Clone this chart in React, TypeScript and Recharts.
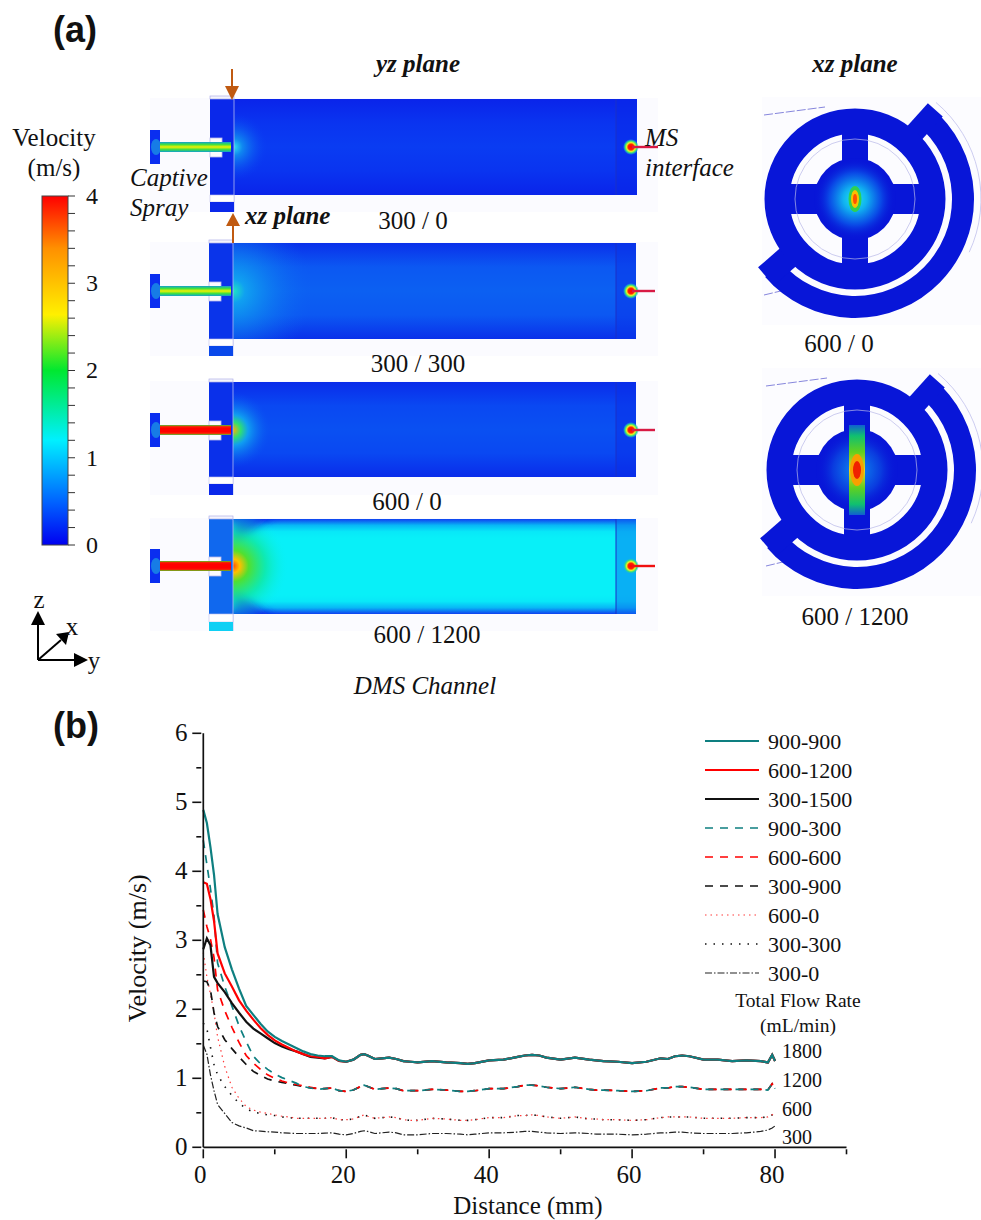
import React from "react";
import { LineChart, Line, XAxis, YAxis, Legend } from "recharts";

const earlyKnots = [0, 0.5, 1, 1.5, 2, 3, 4, 5, 6, 7, 8, 9, 10, 11, 12, 13, 14, 15, 16, 17, 18, 19];
const plateauKnots = [20, 21, 22, 22.5, 23, 24, 25, 26, 27, 28, 29, 30, 32, 34, 36, 37, 38, 40, 42, 44, 45, 46, 47, 48, 50, 52, 54, 55, 56, 58, 60, 62, 64, 65, 66, 67, 68, 70, 72, 74, 76, 78, 79, 79.6, 80];

const plateau1800 = [1.24, 1.27, 1.34, 1.35, 1.33, 1.28, 1.29, 1.3, 1.28, 1.25, 1.24, 1.23, 1.25, 1.23, 1.22, 1.21, 1.22, 1.26, 1.27, 1.31, 1.33, 1.34, 1.33, 1.3, 1.27, 1.3, 1.27, 1.26, 1.25, 1.24, 1.22, 1.24, 1.29, 1.28, 1.32, 1.33, 1.32, 1.27, 1.27, 1.25, 1.26, 1.25, 1.23, 1.34, 1.25];
const plateau1200 = [0.81, 0.83, 0.88, 0.9, 0.88, 0.84, 0.85, 0.86, 0.85, 0.82, 0.82, 0.82, 0.84, 0.83, 0.81, 0.81, 0.82, 0.85, 0.85, 0.88, 0.9, 0.9, 0.89, 0.87, 0.85, 0.87, 0.84, 0.83, 0.83, 0.82, 0.81, 0.82, 0.86, 0.86, 0.88, 0.88, 0.87, 0.84, 0.84, 0.84, 0.84, 0.84, 0.83, 0.92, 0.85];
const plateau600 = [0.4, 0.41, 0.45, 0.47, 0.45, 0.42, 0.43, 0.44, 0.43, 0.4, 0.39, 0.39, 0.42, 0.41, 0.39, 0.39, 0.4, 0.43, 0.43, 0.46, 0.46, 0.47, 0.46, 0.44, 0.42, 0.44, 0.41, 0.41, 0.4, 0.4, 0.39, 0.4, 0.43, 0.44, 0.44, 0.44, 0.44, 0.42, 0.42, 0.42, 0.43, 0.43, 0.44, 0.47, 0.51];
const plateau300 = [0.18, 0.2, 0.23, 0.24, 0.23, 0.2, 0.21, 0.22, 0.21, 0.18, 0.18, 0.18, 0.2, 0.2, 0.19, 0.18, 0.19, 0.21, 0.21, 0.22, 0.23, 0.23, 0.22, 0.21, 0.2, 0.21, 0.2, 0.19, 0.19, 0.19, 0.18, 0.19, 0.21, 0.21, 0.22, 0.22, 0.21, 0.2, 0.2, 0.2, 0.21, 0.23, 0.25, 0.28, 0.31];

const early900_900 = [4.89, 4.7, 4.35, 3.95, 3.38, 2.9, 2.58, 2.3, 2.05, 1.92, 1.79, 1.68, 1.6, 1.54, 1.49, 1.44, 1.39, 1.35, 1.33, 1.32, 1.32, 1.26];
const early600_1200 = [3.84, 3.82, 3.6, 3.28, 2.81, 2.52, 2.33, 2.13, 1.98, 1.85, 1.73, 1.63, 1.55, 1.49, 1.44, 1.39, 1.35, 1.32, 1.31, 1.29, 1.31, 1.25];
const early300_1500 = [2.87, 3.03, 2.93, 2.47, 2.38, 2.25, 2.09, 1.95, 1.82, 1.72, 1.65, 1.58, 1.51, 1.46, 1.42, 1.39, 1.35, 1.31, 1.3, 1.29, 1.31, 1.25];
const early900_300 = [4.45, 4.1, 3.75, 3.35, 2.67, 2.33, 2.05, 1.76, 1.53, 1.32, 1.21, 1.13, 1.06, 1.01, 0.97, 0.93, 0.88, 0.86, 0.84, 0.85, 0.86, 0.82];
const early600_600 = [3.44, 3.2, 3.02, 2.75, 2.28, 1.98, 1.74, 1.52, 1.33, 1.22, 1.13, 1.05, 1.0, 0.96, 0.93, 0.91, 0.89, 0.87, 0.85, 0.85, 0.86, 0.82];
const early300_900 = [2.41, 2.4, 2.28, 1.95, 1.75, 1.56, 1.43, 1.31, 1.2, 1.1, 1.04, 0.99, 0.96, 0.94, 0.92, 0.9, 0.88, 0.86, 0.85, 0.85, 0.86, 0.82];
const early600_0 = [2.82, 2.47, 2.22, 1.95, 1.6, 1.17, 0.87, 0.71, 0.59, 0.54, 0.51, 0.49, 0.47, 0.45, 0.44, 0.42, 0.42, 0.42, 0.42, 0.42, 0.43, 0.4];
const early300_300 = [1.8, 1.72, 1.45, 1.2, 1.05, 0.88, 0.75, 0.64, 0.56, 0.51, 0.49, 0.47, 0.46, 0.44, 0.43, 0.42, 0.42, 0.42, 0.42, 0.42, 0.43, 0.4];
const early300_0 = [1.48, 1.35, 1.05, 0.82, 0.62, 0.49, 0.36, 0.31, 0.28, 0.24, 0.235, 0.225, 0.22, 0.21, 0.205, 0.2, 0.2, 0.2, 0.2, 0.205, 0.21, 0.19];

const TEAL = "#0e7f80";
const RED = "#ff0000";
const BLACK = "#111111";

const seriesDefs = [
  { name: "300-0", early: early300_0, plateau: plateau300, color: "#222222", width: 1.2, dash: "7 2 1.5 2" },
  { name: "300-300", early: early300_300, plateau: plateau600, color: BLACK, width: 1.6, dash: "1.5 7" },
  { name: "600-0", early: early600_0, plateau: plateau600, color: "#ff3b3b", width: 1.2, dash: "1.5 4" },
  { name: "300-900", early: early300_900, plateau: plateau1200, color: BLACK, width: 1.7, dash: "8 7" },
  { name: "600-600", early: early600_600, plateau: plateau1200, color: RED, width: 1.7, dash: "8 7" },
  { name: "900-300", early: early900_300, plateau: plateau1200, color: TEAL, width: 1.7, dash: "8 7" },
  { name: "300-1500", early: early300_1500, plateau: plateau1800, color: BLACK, width: 2.2, dash: undefined },
  { name: "600-1200", early: early600_1200, plateau: plateau1800, color: RED, width: 2.2, dash: undefined },
  { name: "900-900", early: early900_900, plateau: plateau1800, color: TEAL, width: 2.2, dash: undefined },
];
const legendOrder = ["900-900", "600-1200", "300-1500", "900-300", "600-600", "300-900", "600-0", "300-300", "300-0"];

const xTicks = [0, 10, 20, 30, 40, 50, 60, 70, 80, 90];
const yTicks = [0, 0.5, 1, 1.5, 2, 2.5, 3, 3.5, 4, 4.5, 5, 5.5, 6];
const flowLabels = ["1800", "1200", "600", "300"];
const barTicks = ["4", "3", "2", "1", "0"];

const distance = [...earlyKnots, ...plateauKnots];
const rows = distance.map((d, i) => {
  const row: Record<string, number> = { d };
  seriesDefs.forEach((s) => {
    row[s.name] = [...s.early, ...s.plateau][i];
  });
  return row;
});

const SERIF = "'Liberation Serif', 'Times New Roman', serif";
const SANS = "'Liberation Sans', Arial, sans-serif";
const INK = "#111111";

const XTick = (p: any) => {
  const v = p.payload.value;
  const major = v % 20 === 0;
  return (
    <g>
      <line x1={p.x} x2={p.x} y1={p.y} y2={p.y + (major ? 9 : 5)} stroke={INK} strokeWidth={1.6} />
      {major && (
        <text x={p.x - 3} y={p.y + 34} textAnchor="middle" fontFamily={SERIF} fontSize={25} fill={INK}>
          {v}
        </text>
      )}
    </g>
  );
};
const YTick = (p: any) => {
  const v = p.payload.value;
  const major = Number.isInteger(v);
  return (
    <g>
      <line x1={p.x - (major ? 9 : 5)} x2={p.x} y1={p.y} y2={p.y} stroke={INK} strokeWidth={1.6} />
      {major && (
        <text x={p.x - 20} y={p.y + 8} textAnchor="middle" fontFamily={SERIF} fontSize={25} fill={INK}>
          {v}
        </text>
      )}
    </g>
  );
};

const LegendBox = (props: any) => {
  const items = legendOrder.map((n) => (props.payload || []).find((e: any) => e.value === n)).filter(Boolean);
  return (
    <svg width={170} height={270} style={{ display: "block", overflow: "visible", position: "absolute", left: 0, top: 0 }}>
      {items.map((e: any, i: number) => {
        const y = 13 + i * 29;
        return (
          <g key={e.value}>
            <line x1={5} x2={59} y1={y} y2={y} stroke={e.color} strokeWidth={e.payload.strokeWidth} strokeDasharray={e.payload.strokeDasharray} />
            <text x={68} y={y + 8} fontFamily={SERIF} fontSize={22} fill={INK}>
              {e.value}
            </text>
          </g>
        );
      })}
    </svg>
  );
};

const T = ({ x, y, s = 25, a = "middle", i, b, f = SERIF, children }: any) => (
  <text x={x} y={y} fontSize={s} textAnchor={a} fontStyle={i ? "italic" : "normal"} fontWeight={b ? "bold" : "normal"} fontFamily={f} fill={INK}>
    {children}
  </text>
);

const Panel = ({ id, yc, top, bottom, left, main, hot, r, tube, tw, lowY, lowH, low, bgBot, cham, end, endOp, exit, exitColor }: any) => (
  <g>
    <defs>
      <linearGradient id={`${id}m`} x1="0" y1="0" x2="0" y2="1">
        {main.map((c: string, i: number) => (
          <stop key={i} offset={`${(i / (main.length - 1)) * 100}%`} stopColor={c} />
        ))}
      </linearGradient>
      <radialGradient id={`${id}h`} gradientUnits="userSpaceOnUse" cx={left + 24} cy={yc} r={r}>
        {hot.map((c: any, i: number) => (
          <stop key={i} offset={c[0]} stopColor={c[1]} stopOpacity={c[2]} />
        ))}
      </radialGradient>
      <linearGradient id={`${id}t`} x1="0" y1="0" x2="0" y2="1">
        {tube.map((c: string, i: number) => (
          <stop key={i} offset={`${(i / (tube.length - 1)) * 100}%`} stopColor={c} />
        ))}
      </linearGradient>
      <radialGradient id={`${id}e`}>
        <stop offset="0%" stopColor="#ff0000" />
        <stop offset="35%" stopColor="#ff2000" />
        <stop offset="55%" stopColor="#f0f020" />
        <stop offset="75%" stopColor="#30e080" />
        <stop offset="100%" stopColor="#20a0f0" stopOpacity="0" />
      </radialGradient>
      <clipPath id={`${id}c`}>
        <rect x={left + 24} y={top} width={403} height={bottom - top} />
      </clipPath>
    </defs>
    <rect x={150} y={top - 1} width={508} height={bgBot - top + 1} fill="#fbfbff" />
    <rect x={150} y={yc - 17} width={10} height={34} fill="#0a2ef0" />
    <ellipse cx={156} cy={yc} rx={5} ry={8} fill="#20b0e0" opacity={0.6} />
    <rect x={left} y={top} width={24} height={bottom - top} fill={cham} />
    <rect x={left} y={top - 3} width={24} height={3} fill="#f4f4fc" stroke="#b0b0e8" strokeWidth={0.7} />
    <rect x={left + 24} y={top} width={403} height={bottom - top} fill={`url(#${id}m)`} />
    {id === "p4" && (
      <g filter="url(#soft)" clipPath={`url(#${id}c)`}>
        <polygon points={`${left + 24},${top - 8} ${left + 70},${top - 8} ${left + 24},${top + 26}`} fill="#0a30e8" />
        <polygon points={`${left + 24},${bottom + 8} ${left + 70},${bottom + 8} ${left + 24},${bottom - 26}`} fill="#0a30e8" />
      </g>
    )}
    <g clipPath={`url(#${id}c)`}>
      <rect x={left + 24} y={top} width={200} height={bottom - top} fill={`url(#${id}h)`} />
    </g>
    <rect x={616} y={top} width={20} height={bottom - top} fill={end} opacity={endOp} />
    <line x1={616} x2={616} y1={top} y2={bottom} stroke="#1a30c8" strokeWidth={1} />
    <rect x={left} y={yc - 9} width={12} height={19} fill="#fbfbff" stroke="#b8b8ea" strokeWidth={0.8} />
    <rect x={160} y={yc - tw / 2} width={71} height={tw} fill={`url(#${id}t)`} />
    <line x1={left + 24} x2={left + 24} y1={top} y2={lowY + lowH} stroke="#b0b8f0" strokeWidth={0.8} />
    <rect x={left} y={bottom} width={24} height={lowY - bottom} fill="#ffffff" stroke="#c0c0ec" strokeWidth={0.6} />
    <rect x={left} y={lowY} width={24} height={lowH} fill={low} />
    <circle cx={631} cy={yc} r={8} fill={`url(#${id}e)`} />
    <line x1={632} x2={exit} y1={yc} y2={yc} stroke={exitColor} strokeWidth={2.4} />
  </g>
);

const Wheel = ({ id, cx, cy, hot, children }: any) => {
  const ang = (deg: number, r: number) => [cx + r * Math.cos((deg * Math.PI) / 180), cy + r * Math.sin((deg * Math.PI) / 180)];
  const a0 = ang(-50, 108);
  const a1 = ang(139, 108);
  const t0a = ang(-48, 84);
  const t0b = ang(-48, 120);
  const t1a = ang(139, 84);
  const t1b = ang(139, 118);
  const g0 = ang(-50, 126);
  const g1 = ang(25, 126);
  const BLUE = "#0816d8";
  return (
    <g>
      <rect x={762} y={cy - 102} width={219} height={228} fill="#fcfcff" />
      <path d={`M ${g0[0]} ${g0[1]} A 126 126 0 0 1 ${g1[0]} ${g1[1]}`} fill="none" stroke="#c0c0ec" strokeWidth={0.8} />
      <line x1={cx - 91} y1={cy - 84} x2={cx - 30} y2={cy - 92} stroke="#7878d8" strokeWidth={0.9} strokeDasharray="9 2" />
      <line x1={cx - 91} y1={cy + 96} x2={cx - 70} y2={cy + 91} stroke="#7878d8" strokeWidth={0.9} strokeDasharray="9 2" />
      <path d={`M ${a0[0]} ${a0[1]} A 108 108 0 1 1 ${a1[0]} ${a1[1]}`} fill="none" stroke={BLUE} strokeWidth={22} />
      <line x1={t0a[0]} y1={t0a[1]} x2={t0b[0]} y2={t0b[1]} stroke={BLUE} strokeWidth={20} />
      <line x1={t1a[0]} y1={t1a[1]} x2={t1b[0]} y2={t1b[1]} stroke={BLUE} strokeWidth={24} />
      <circle cx={cx} cy={cy} r={78} fill="none" stroke={BLUE} strokeWidth={25} />
      <rect x={cx - 13} y={cy - 70} width={26} height={140} fill={BLUE} />
      <rect x={cx - 70} y={cy - 15} width={140} height={30} fill={BLUE} />
      <circle cx={cx} cy={cy} r={41} fill={BLUE} />
      <circle cx={cx} cy={cy} r={60} fill="none" stroke="#b8b8e8" strokeWidth={0.7} />
      <defs>
        <radialGradient id={`${id}g`}>
          {hot.map((c: any, i: number) => (
            <stop key={i} offset={c[0]} stopColor={c[1]} stopOpacity={c[2]} />
          ))}
        </radialGradient>
      </defs>
      <circle cx={cx} cy={cy} r={40} fill={`url(#${id}g)`} />
      {children}
    </g>
  );
};

const Partial = () => (
  <svg width={981} height={1220} style={{ position: "absolute", left: 0, top: 0 }}>
    <defs>
      <filter id="soft" x="-30%" y="-30%" width="160%" height="160%">
        <feGaussianBlur stdDeviation="4" />
      </filter>
      <linearGradient id="bar" x1="0" y1="1" x2="0" y2="0">
        <stop offset="0%" stopColor="#0000f0" />
        <stop offset="12%" stopColor="#0060ff" />
        <stop offset="30%" stopColor="#00f0ff" />
        <stop offset="50%" stopColor="#00e830" />
        <stop offset="66%" stopColor="#fff000" />
        <stop offset="85%" stopColor="#ff9000" />
        <stop offset="100%" stopColor="#ff0000" />
      </linearGradient>
      <linearGradient id="spotB" x1="0" y1="0" x2="0" y2="1">
        <stop offset="0%" stopColor="#1060d0" />
        <stop offset="12%" stopColor="#10c070" />
        <stop offset="30%" stopColor="#60d020" />
        <stop offset="50%" stopColor="#f0d020" />
        <stop offset="70%" stopColor="#60d020" />
        <stop offset="88%" stopColor="#10c070" />
        <stop offset="100%" stopColor="#1060d0" />
      </linearGradient>
    </defs>

    <T x={75} y={42} s={36} b f={SANS}>(a)</T>
    <T x={76} y={738} s={36} b f={SANS}>(b)</T>
    <T x={418} y={72} i b>yz plane</T>
    <T x={855} y={72} i b>xz plane</T>

    <T x={54} y={146}>Velocity</T>
    <T x={54} y={176}>(m/s)</T>
    <rect x={42} y={196} width={26} height={349} fill="url(#bar)" stroke="#444" strokeWidth={1} />
    {Array.from({ length: 21 }).map((_, i) => (
      <line key={i} x1={68} x2={75} y1={196 + i * 17.45} y2={196 + i * 17.45} stroke="#333" strokeWidth={1} />
    ))}
    {barTicks.map((t, i) => (
      <T key={t} x={92} y={204 + i * 87.2} s={24}>{t}</T>
    ))}

    <Panel id="p1" yc={147} top={99} bottom={195} left={210} lowY={202} lowH={10} bgBot={212}
      main={["#0a24ea", "#0a34f0", "#0a3cf2", "#0a34f0", "#0a24ea"]} cham="#0a28ea" end="#0a28ea" endOp={0.55} low="#0a28ea"
      hot={[["0%", "#30e0f0", 1], ["25%", "#1090f0", 0.9], ["100%", "#0a3cf2", 0]]} r={34}
      tube={["#10a0d0", "#40e040", "#f0f000", "#40e040", "#10a0d0"]} tw={10} exit={658} exitColor="#d81a44" />
    <Panel id="p2" yc={291} top={243} bottom={339} left={209} lowY={346} lowH={10} bgBot={356}
      main={["#0a30ea", "#0c58f2", "#0c60f2", "#0c58f2", "#0a30ea"]} cham="#0a34ea" end="#0a34ea" endOp={0.55} low="#0a48ea"
      hot={[["0%", "#20e8c0", 1], ["15%", "#10a8f0", 0.9], ["100%", "#0c60f2", 0]]} r={80}
      tube={["#10a0d0", "#40e040", "#f0f000", "#40e040", "#10a0d0"]} tw={10} exit={655} exitColor="#d81a44" />
    <Panel id="p3" yc={430} top={382} bottom={477} left={209} lowY={484} lowH={11} bgBot={495}
      main={["#0a2cea", "#0a48f2", "#0a50f2", "#0a48f2", "#0a2cea"]} cham="#0a30ea" end="#0a30ea" endOp={0.55} low="#0a28ea"
      hot={[["0%", "#ffb000", 1], ["20%", "#30e070", 1], ["40%", "#10a8f0", 0.9], ["100%", "#0a50f2", 0]]} r={38}
      tube={["#40d040", "#ff2000", "#ff0000", "#ff0000", "#ff0000", "#ff2000", "#40d040"]} tw={10} exit={655} exitColor="#d81a44" />
    <Panel id="p4" yc={566} top={519} bottom={614} left={209} lowY={622} lowH={9} bgBot={631}
      main={["#1040f0", "#08b8f6", "#08e8f8", "#08f0f8", "#08f0f8", "#08f0f8", "#08f0f8", "#08f0f8", "#08f0f8", "#08f0f8", "#08f0f8", "#08f0f8", "#08f0f8", "#08e8f8", "#08b8f6", "#1040f0"]} cham="#1068ee" end="#0a70f0" endOp={0.5} low="#10d0f4"
      hot={[["0%", "#ff5000", 1], ["12%", "#ffc000", 1], ["28%", "#50e030", 1], ["58%", "#10e8a0", 0.8], ["100%", "#08f0f8", 0]]} r={56}
      tube={["#50d020", "#ff1000", "#ff0000", "#ff0000", "#ff0000", "#ff1000", "#50d020"]} tw={10} exit={655} exitColor="#f01010" />

    <line x1={232} x2={232} y1={69} y2={90} stroke="#c05a11" strokeWidth={2} />
    <polygon points="225,86 239,86 232,100" fill="#c05a11" />
    <line x1={233} x2={233} y1={225} y2={243} stroke="#c05a11" strokeWidth={2} />
    <polygon points="226,226 240,226 233,213" fill="#c05a11" />

    <T x={130} y={186} a="start" i>Captive</T>
    <T x={130} y={216} a="start" i>Spray</T>
    <T x={645} y={146} a="start" i>MS</T>
    <T x={645} y={176} a="start" i>interface</T>
    <T x={245} y={224} a="start" i b>xz plane</T>
    <T x={413} y={229}>300 / 0</T>
    <T x={418} y={372}>300 / 300</T>
    <T x={407} y={510}>600 / 0</T>
    <T x={427} y={643}>600 / 1200</T>
    <T x={839} y={352}>600 / 0</T>
    <T x={855} y={625}>600 / 1200</T>
    <T x={425} y={694} i>DMS Channel</T>

    <Wheel id="w1" cx={855} cy={199}
      hot={[["0%", "#20e8f0", 1], ["30%", "#10b0f0", 1], ["65%", "#0a50e8", 0.9], ["100%", "#0816d8", 0]]}>
      <ellipse cx={855} cy={199} rx={6.5} ry={13} fill="#30d050" />
      <ellipse cx={855} cy={199} rx={4} ry={9} fill="#f8c000" />
      <ellipse cx={855} cy={199} rx={2} ry={5} fill="#ff5000" />
    </Wheel>
    <Wheel id="w2" cx={857} cy={470}
      hot={[["0%", "#1090f0", 1], ["60%", "#0a40e0", 0.9], ["100%", "#0816d8", 0]]}>
      <rect x={849} y={425} width={16} height={90} fill="url(#spotB)" />
      <ellipse cx={857} cy={470} rx={7} ry={16} fill="#f8a000" />
      <ellipse cx={857} cy={470} rx={4} ry={9} fill="#f02000" />
    </Wheel>

    <g stroke="#000" strokeWidth={2} fill="#000">
      <line x1={38} y1={660} x2={38} y2={620} />
      <polygon points="31,625 45,625 38,611" stroke="none" />
      <line x1={38} y1={660} x2={78} y2={660} />
      <polygon points="74,653 74,667 88,660" stroke="none" />
      <line x1={38} y1={660} x2={61} y2={640} />
      <polygon points="56,634 66,645 69,632" stroke="none" />
    </g>
    <T x={39} y={608}>z</T>
    <T x={72} y={635}>x</T>
    <T x={94} y={669}>y</T>

    <T x={798} y={1007} s={19.5}>Total Flow Rate</T>
    <T x={798} y={1032} s={19.5}>(mL/min)</T>
    {flowLabels.map((t, i) => (
      <T key={t} x={782} y={[1058, 1087, 1116, 1144][i]} s={20} a="start">{t}</T>
    ))}
  </svg>
);

export default function App() {
  return (
    <div style={{ position: "absolute", left: 0, top: 0, width: 981, height: 1220, background: "#fff", overflow: "hidden" }}>
      <Partial />
      <div style={{ position: "absolute", left: 0, top: 0 }}>
        <LineChart width={981} height={1220} data={rows} margin={{ top: 733.3, left: 143.3, right: 134.5, bottom: 22.7 }}>
          <XAxis
            dataKey="d"
            type="number"
            domain={[0, 90]}
            ticks={xTicks}
            interval={0}
            height={50}
            tick={XTick}
            tickLine={false}
            tickSize={0}
            axisLine={{ stroke: INK, strokeWidth: 1.7 }}
            label={{ value: "Distance (mm)", position: "insideBottom", dx: 3, dy: 22, style: { fontFamily: SERIF, fontSize: 25, fill: INK } }}
          />
          <YAxis
            type="number"
            domain={[0, 6]}
            ticks={yTicks}
            interval={0}
            width={60}
            tick={YTick}
            tickLine={false}
            tickSize={0}
            axisLine={{ stroke: INK, strokeWidth: 1.7 }}
            label={{ value: "Velocity (m/s)", angle: -90, position: "insideLeft", dx: -12, dy: 8, style: { fontFamily: SERIF, fontSize: 26, fill: INK, textAnchor: "middle" } }}
          />
          <Legend content={LegendBox} layout="vertical" wrapperStyle={{ position: "absolute", left: 700, top: 728, width: 0, height: 0, bottom: "auto" }} />
          {seriesDefs.map((s) => (
            <Line key={s.name} dataKey={s.name} name={s.name} type="linear" stroke={s.color} strokeWidth={s.width} strokeDasharray={s.dash} dot={false} activeDot={false} isAnimationActive={false} />
          ))}
        </LineChart>
      </div>
    </div>
  );
}
